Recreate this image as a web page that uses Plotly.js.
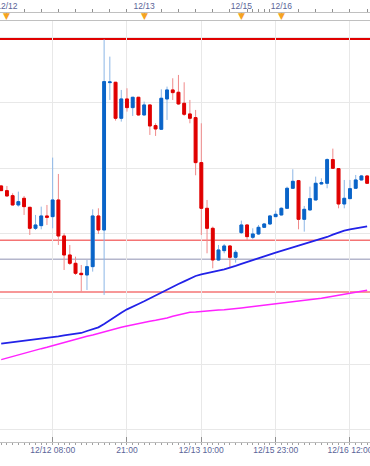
<!DOCTYPE html>
<html><head><meta charset="utf-8">
<script src="https://cdn.plot.ly/plotly-3.0.1.min.js"></script>
<style>html,body{margin:0;padding:0;background:#fff}#chart{width:370px;height:466px}</style>
</head><body><div id="chart"></div>
<script>
// ---- data (hourly candles) ----
const open = [84.442,84.428,84.413,84.385,84.405,84.378,84.315,84.323,84.352,84.350,
84.400,84.292,84.235,84.210,84.180,84.175,84.200,84.352,84.310,84.752,
84.753,84.645,84.703,84.677,84.708,84.655,84.685,84.623,84.612,84.703,
84.730,84.723,84.690,84.658,84.647,84.512,84.375,84.315,84.220,84.248,
84.262,84.228,84.302,84.325,84.288,84.298,84.318,84.328,84.350,84.355,
84.375,84.435,84.458,84.342,84.370,84.400,84.448,84.450,84.521,84.494,
84.388,84.404,84.435,84.460,84.472];
const high = [84.445,84.442,84.420,84.425,84.412,84.379,84.355,84.380,84.385,84.527,
84.478,84.300,84.265,84.230,84.205,84.220,84.372,84.375,84.882,84.830,
84.754,84.730,84.735,84.709,84.709,84.695,84.686,84.630,84.732,84.740,
84.765,84.775,84.753,84.700,84.670,84.630,84.400,84.320,84.265,84.268,
84.265,84.250,84.338,84.327,84.315,84.325,84.331,84.355,84.368,84.378,
84.440,84.492,84.460,84.382,84.440,84.470,84.465,84.525,84.554,84.495,
84.460,84.460,84.475,84.475,84.474];
const low = [84.427,84.411,84.384,84.380,84.355,84.295,84.310,84.312,84.325,84.315,
84.265,84.190,84.205,84.175,84.125,84.130,84.185,84.298,84.115,84.700,
84.638,84.635,84.665,84.652,84.653,84.653,84.595,84.592,84.610,84.640,
84.700,84.685,84.652,84.630,84.474,84.295,84.240,84.195,84.218,84.240,
84.198,84.212,84.298,84.280,84.282,84.295,84.316,84.325,84.349,84.354,
84.373,84.433,84.312,84.305,84.369,84.399,84.447,84.435,84.493,84.375,
84.375,84.403,84.434,84.459,84.448];
const close = [84.428,84.412,84.385,84.395,84.380,84.315,84.325,84.352,84.348,84.400,
84.292,84.235,84.210,84.180,84.176,84.200,84.352,84.310,84.755,84.754,
84.645,84.703,84.677,84.708,84.655,84.685,84.622,84.613,84.705,84.730,
84.722,84.688,84.657,84.645,84.512,84.375,84.315,84.220,84.250,84.262,
84.228,84.243,84.325,84.290,84.298,84.318,84.328,84.352,84.357,84.375,
84.435,84.456,84.342,84.372,84.404,84.450,84.452,84.521,84.495,84.388,
84.405,84.434,84.460,84.472,84.450];
const maFast = [83.969,83.971,83.973,83.976,83.978,83.980,83.982,83.985,83.987,83.989,
83.991,83.994,83.996,83.998,84.001,84.007,84.013,84.018,84.028,84.040,
84.051,84.062,84.072,84.081,84.088,84.096,84.105,84.113,84.121,84.130,
84.139,84.148,84.156,84.165,84.172,84.177,84.180,84.184,84.188,84.192,
84.196,84.202,84.208,84.214,84.220,84.226,84.231,84.236,84.242,84.247,
84.253,84.258,84.263,84.268,84.273,84.278,84.283,84.289,84.296,84.303,
84.308,84.312,84.315,84.318,84.321];
const maSlow = [83.921,83.926,83.931,83.936,83.940,83.945,83.949,83.954,83.958,83.963,
83.968,83.973,83.977,83.982,83.986,83.991,83.995,84.000,84.004,84.009,
84.013,84.018,84.022,84.026,84.030,84.033,84.036,84.039,84.042,84.046,
84.051,84.055,84.060,84.063,84.064,84.066,84.067,84.069,84.070,84.071,
84.072,84.074,84.076,84.078,84.080,84.081,84.084,84.086,84.087,84.090,
84.091,84.093,84.096,84.099,84.101,84.103,84.105,84.108,84.111,84.114,
84.117,84.120,84.123,84.126,84.129];
const resistanceLevels = [84.883];
const supportLevels = [84.279, 84.124];
const currentLevel = [84.222];
const bottomTickPos = [9, 22, 35, 48, 61];
const bottomTickText = ['12/12 08:00', '21:00', '12/13 10:00', '12/15 23:00', '12/16 12:00'];
const topTickPos = [1, 25, 42, 49];
const topTickText = ['12/12', '12/13', '12/15', '12/16'];
const topMinorPos = [4,7,10,13,16,19,22,28,31,34,37,40,43,44,45,46,47,52,55,58,61,64];

// ---- chart ----
const bar = open.map((_, i) => i);
const bodyHi = open.map((o, i) => Math.max(o, close[i]));
const bodyLo = open.map((o, i) => Math.min(o, close[i]));
const UP = '#0a64c8', DN = '#e00000', UPW = '#8cb6e6', DNW = '#f08a8a';

const traces = [
  {type: 'scatter', mode: 'lines', x: bar, y: maSlow, line: {color: '#ff22ff', width: 1.5}, hoverinfo: 'skip'},
  {type: 'scatter', mode: 'lines', x: bar, y: maFast, line: {color: '#2222e8', width: 1.8}, hoverinfo: 'skip'},
  {type: 'candlestick', x: bar, open: open, high: high, low: low, close: close, whiskerwidth: 0,
   increasing: {line: {color: UPW, width: 1}, fillcolor: UPW},
   decreasing: {line: {color: DNW, width: 1}, fillcolor: DNW}, hoverinfo: 'skip'},
  {type: 'candlestick', x: bar, open: open, high: bodyHi, low: bodyLo, close: close, whiskerwidth: 0,
   increasing: {line: {color: UP, width: 1}, fillcolor: UP},
   decreasing: {line: {color: DN, width: 1}, fillcolor: DN}, hoverinfo: 'skip'}
];

const shapes = [];
resistanceLevels.forEach(v => shapes.push({type: 'line', xref: 'paper', x0: 0, x1: 1, yref: 'y', y0: v, y1: v, line: {color: '#e00000', width: 2}, layer: 'below'}));
supportLevels.forEach(v => shapes.push({type: 'line', xref: 'paper', x0: 0, x1: 1, yref: 'y', y0: v, y1: v, line: {color: '#f47474', width: 1.4}, layer: 'below'}));
currentLevel.forEach(v => shapes.push({type: 'line', xref: 'paper', x0: 0, x1: 1, yref: 'y', y0: v, y1: v, line: {color: '#b4b6cc', width: 1.4}, layer: 'below'}));

const annotations = topTickPos.map(p => ({x: p, xref: 'x', y: 1, yref: 'paper', yanchor: 'top', yshift: 3,
  text: '▼', showarrow: false, font: {family: 'DejaVu Sans', size: 9, color: '#f5a321'}}));

const font = {family: 'Liberation Sans, Arial, sans-serif', size: 8.5, color: '#5a6498'};
const layout = {
  width: 370, height: 466,
  margin: {l: 0, r: 0, t: 12, b: 24, pad: 0},
  paper_bgcolor: '#ffffff', plot_bgcolor: '#ffffff',
  showlegend: false, hovermode: false, dragmode: false,
  xaxis: {range: [-0.21, 64.5], rangeslider: {visible: false}, tickmode: 'array', tickvals: bottomTickPos, ticktext: bottomTickText,
          showgrid: true, gridcolor: '#e8e8e8', gridwidth: 1, zeroline: false, ticklabeloverflow: 'allow',
          showline: true, linecolor: '#c0c0c0', linewidth: 1, mirror: true,
          ticks: 'inside', ticklen: 5, tickcolor: '#909090', tickfont: font,
          minor: {dtick: 1, tick0: 0, ticklen: 2, tickcolor: '#a0a0a0', showgrid: false}},
  xaxis2: {overlaying: 'x', side: 'top', anchor: 'free', position: 1, range: [-0.21, 64.5], ticklabeloverflow: 'allow',
           tickmode: 'array', tickvals: topTickPos, ticktext: topTickText, showgrid: false, zeroline: false,
           showline: true, linecolor: '#c0c0c0', linewidth: 1, ticks: 'inside', ticklen: 3, tickcolor: '#909090',
           tickfont: font, minor: {tickmode: 'array', tickvals: topMinorPos, ticklen: 3, tickcolor: '#909090'}},
  yaxis: {domain: [0, 0.98], range: [83.674, 84.938], tick0: 84.691, dtick: 0.196, showticklabels: false, ticks: '',
          showgrid: true, gridcolor: '#e8e8e8', zeroline: false, showline: false},
  shapes: shapes, annotations: annotations
};
// invisible trace that activates the top date axis
traces.push({type: 'scatter', x: [bar[0]], y: [open[0]], xaxis: 'x2', mode: 'markers', marker: {opacity: 0}, hoverinfo: 'skip'});
Plotly.newPlot('chart', traces, layout, {staticPlot: true, displayModeBar: false});
</script></body></html>
